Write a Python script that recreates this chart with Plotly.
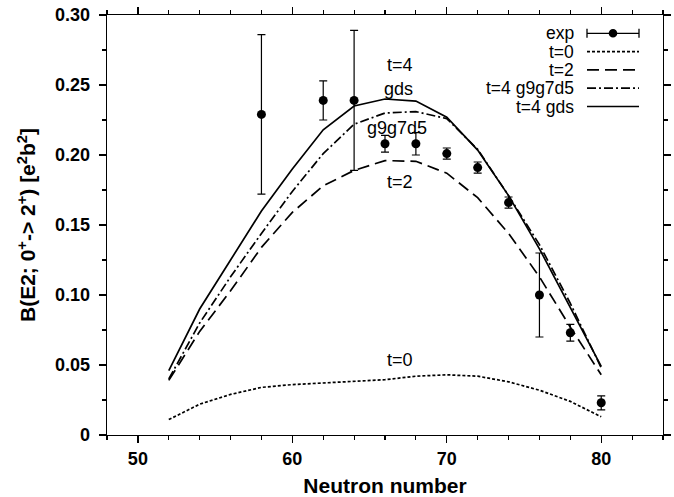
import plotly.graph_objects as go

# ---------------- data ----------------
N_theory = [52, 54, 56, 58, 60, 62, 64, 66, 68, 70, 72, 74, 76, 78, 80]
t0 = [0.011, 0.022, 0.029, 0.034, 0.036, 0.037, 0.038, 0.0395, 0.042, 0.043, 0.042, 0.038, 0.032, 0.024, 0.013]
t2 = [0.039, 0.074, 0.103, 0.134, 0.159, 0.178, 0.189, 0.196, 0.1955, 0.187, 0.1695, 0.144, 0.113, 0.077, 0.043]
t4_g9g7d5 = [0.040, 0.080, 0.113, 0.144, 0.174, 0.201, 0.222, 0.230, 0.231, 0.226, 0.204, 0.171, 0.136, 0.094, 0.048]
t4_gds = [0.046, 0.090, 0.125, 0.160, 0.190, 0.218, 0.235, 0.240, 0.2385, 0.227, 0.2035, 0.171, 0.133, 0.0915, 0.049]

N_exp = [58, 62, 64, 66, 68, 70, 72, 74, 76, 78, 80]
B_exp = [0.229, 0.239, 0.239, 0.208, 0.208, 0.201, 0.191, 0.166, 0.100, 0.073, 0.023]
B_err = [0.057, 0.014, 0.050, 0.006, 0.008, 0.004, 0.004, 0.004, 0.030, 0.006, 0.005]

y_tickvals = [0, 0.05, 0.10, 0.15, 0.20, 0.25, 0.30]
y_ticktext = ["0", "0.05", "0.10", "0.15", "0.20", "0.25", "0.30"]
x_tickvals = [50, 60, 70, 80]

legend_labels = ["exp", "t=0", "t=2", "t=4 g9g7d5", "t=4 gds"]
curve_labels = ["t=4", "gds", "g9g7d5", "t=2", "t=0"]
curve_label_x = [67.0, 66.9, 66.8, 67.0, 67.0]
curve_label_y = [0.2645, 0.2475, 0.2195, 0.181, 0.0536]

# ---------------- styles ----------------
W, H = 674, 497
ML, MR, MT, MB = 107, 11, 15, 62
FONT = "Liberation Sans, Arial, sans-serif"
DASH_T0 = "3px,2px"
DASH_T2 = "12px,6px"
DASH_DD = "9px,3px,2px,3px"
LW = 1.7

fig = go.Figure()

fig.add_trace(go.Scatter(x=N_theory, y=t0, mode="lines",
                         line=dict(color="black", width=LW, dash=DASH_T0), showlegend=False))
fig.add_trace(go.Scatter(x=N_theory, y=t2, mode="lines",
                         line=dict(color="black", width=LW, dash=DASH_T2), showlegend=False))
fig.add_trace(go.Scatter(x=N_theory, y=t4_g9g7d5, mode="lines",
                         line=dict(color="black", width=LW, dash=DASH_DD), showlegend=False))
fig.add_trace(go.Scatter(x=N_theory, y=t4_gds, mode="lines",
                         line=dict(color="black", width=LW), showlegend=False))
fig.add_trace(go.Scatter(x=N_exp, y=B_exp, mode="markers",
                         marker=dict(color="black", size=9),
                         error_y=dict(type="data", array=B_err, visible=True,
                                      color="black", thickness=1.2, width=4),
                         showlegend=False))

# curve labels
for txt, x, y in zip(curve_labels, curve_label_x, curve_label_y):
    fig.add_annotation(x=x, y=y, xref="x", yref="y", text=txt, showarrow=False,
                       font=dict(family=FONT, size=18, color="black"),
                       xanchor="center", yanchor="middle")

# custom legend (text right-aligned, sample on the right); positions in page pixels
PW = W - ML - MR
PH = H - MT - MB


def px(x):
    return (x - ML) / PW


def py(y):
    return (H - MB - y) / PH


row_y = [33.3, 51.6, 69.9, 88.2, 106.5]
text_right = 576
s0, s1 = 587, 639
for lab, yy in zip(legend_labels, row_y):
    fig.add_annotation(x=px(text_right), y=py(yy), xref="paper", yref="paper",
                       text=lab, showarrow=False, xanchor="right", yanchor="middle",
                       font=dict(family=FONT, size=17.5, color="black"))

line_styles = [None, DASH_T0, DASH_T2, DASH_DD, "solid"]
for st, yy in zip(line_styles, row_y):
    d = "solid" if st is None else st
    fig.add_shape(type="line", xref="paper", yref="paper",
                  x0=px(s0), x1=px(s1), y0=py(yy), y1=py(yy),
                  line=dict(color="black", width=1.3 if st is None else LW, dash=d))
# exp sample caps and dot
for xc in (s0, s1):
    fig.add_shape(type="line", xref="paper", yref="paper",
                  x0=px(xc), x1=px(xc), y0=py(row_y[0] - 4.5), y1=py(row_y[0] + 4.5),
                  line=dict(color="black", width=1.3))
cx = (s0 + s1) / 2
fig.add_shape(type="circle", xref="paper", yref="paper",
              x0=px(cx - 4.3), x1=px(cx + 4.3), y0=py(row_y[0] + 4.3), y1=py(row_y[0] - 4.3),
              fillcolor="black", line=dict(color="black", width=0))

axis_common = dict(
    showline=True, linecolor="black", linewidth=1.3, mirror="ticks",
    ticks="outside", ticklen=7, tickwidth=1.3, tickcolor="black",
    showgrid=False, zeroline=False, ticklabeloverflow="allow",
    tickfont=dict(family=FONT, size=18, color="black", weight="bold"),
)

fig.update_xaxes(
    range=[48, 84], tickmode="array", tickvals=x_tickvals,
    minor=dict(ticks="outside", ticklen=4, tickwidth=1.1, tickcolor="black",
               tickmode="linear", tick0=48, dtick=2, showgrid=False),
    title=dict(text="Neutron number", standoff=10,
               font=dict(family=FONT, size=21, color="black", weight="bold")),
    **axis_common,
)
fig.update_yaxes(
    range=[0, 0.3], tickmode="array", tickvals=y_tickvals, ticktext=y_ticktext,
    minor=dict(ticks="outside", ticklen=4, tickwidth=1.1, tickcolor="black",
               tickmode="linear", tick0=0, dtick=0.025, showgrid=False),
    ticklabelstandoff=5,
    title=dict(text="B(E2; 0<sup>+</sup>-> 2<sup>+</sup>) [e<sup>2</sup>b<sup>2</sup>]", standoff=13,
               font=dict(family=FONT, size=21, color="black", weight="bold")),
    **axis_common,
)

fig.update_layout(
    width=W, height=H,
    margin=dict(l=ML, r=MR, t=MT, b=MB, autoexpand=False),
    paper_bgcolor="white", plot_bgcolor="white",
    showlegend=False,
    font=dict(family=FONT, color="black"),
)

# remove the browser's default 8px body margin so the figure fills the window
fig.write_html("out.html", config={"displayModeBar": False, "staticPlot": True},
               post_script="document.body.style.margin='0';")
